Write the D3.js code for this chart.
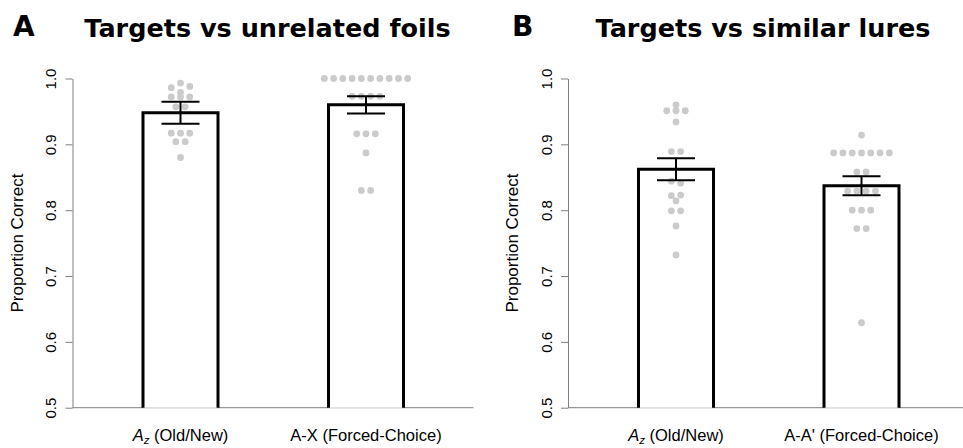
<!DOCTYPE html>
<html><head><meta charset="utf-8">
<script src="https://cdn.jsdelivr.net/npm/d3@7"></script>
<style>body{margin:0;background:#fff} svg{display:block}</style>
</head><body><svg id="c" width="963" height="448"></svg>
<script>
// ---------- data ----------
const panelLetters = ["A", "B"];
const panelTitles = ["Targets vs unrelated foils", "Targets vs similar lures"];
const categoriesA = ["A_z (Old/New)", "A-X (Forced-Choice)"];
const categoriesB = ["A_z (Old/New)", "A-A' (Forced-Choice)"];
const meansA = [0.948, 0.960];
const errorsA = [0.0167, 0.013];
const meansB = [0.862, 0.837];
const errorsB = [0.0167, 0.0144];
const unrelatedOldNew = [0.986, 0.993, 0.988, 0.979, 0.972, 0.972, 0.972, 0.957, 0.957,
  0.917, 0.917, 0.917, 0.904, 0.904, 0.880];
const unrelatedForced = [1.0, 1.0, 1.0, 1.0, 1.0, 1.0, 1.0, 1.0, 1.0, 1.0,
  0.973, 0.973, 0.973, 0.973, 0.916, 0.916, 0.916, 0.887, 0.830, 0.830];
const similarOldNew = [0.960, 0.951, 0.951, 0.951, 0.934, 0.889, 0.889, 0.844, 0.841,
  0.822, 0.823, 0.814, 0.799, 0.799, 0.776, 0.732];
const similarForced = [0.914, 0.887, 0.887, 0.887, 0.887, 0.887, 0.887, 0.887,
  0.858, 0.858, 0.829, 0.829, 0.829, 0.829, 0.800, 0.800, 0.800, 0.772, 0.772, 0.629];
const yTicks = [0.5, 0.6, 0.7, 0.8, 0.9, 1.0];
const yLabel = "Proportion Correct";

// ---------- layout ----------
const panels = [
  {axisX: 72.5, letterX: 13, cats: categoriesA, means: meansA, errs: errorsA, pts: [unrelatedOldNew, unrelatedForced]},
  {axisX: 568, letterX: 512, cats: categoriesB, means: meansB, errs: errorsB, pts: [similarOldNew, similarForced]}
];
const svg = d3.select("#c");
const y = d3.scaleLinear().domain([0.5, 1.0]).range([407.7, 78.5]);
const gray = "#808080";
const dotR = 3.4, slot = 9.27, barW = 75, capHalf = 19;
const sans = "Liberation Sans, Arial, sans-serif";

panels.forEach((p, i) => {
  const g = svg.append("g");
  const x = d3.scalePoint().domain(p.cats).range([p.axisX + 108, p.axisX + 293.5]);

  // letter + title
  g.append("text").attr("x", p.letterX).attr("y", 35.5)
    .attr("font-family", "DejaVu Sans").attr("font-weight", "bold").attr("font-size", 28)
    .text(panelLetters[i]);
  g.append("text").attr("x", p.axisX + 195).attr("y", 37).attr("text-anchor", "middle")
    .attr("font-family", "DejaVu Sans").attr("font-weight", "bold").attr("font-size", 25.5)
    .text(panelTitles[i]);

  // y axis
  const ax = g.append("g").attr("transform", `translate(${p.axisX},0)`)
    .call(d3.axisLeft(y).tickValues(yTicks).tickFormat(d3.format(".1f")).tickSize(7).tickSizeOuter(0));
  ax.select(".domain").attr("stroke", gray);
  ax.selectAll(".tick line").attr("stroke", gray);
  ax.selectAll(".tick text")
    .attr("x", null).attr("dy", null).attr("y", null)
    .attr("transform", "translate(-16.5,0) rotate(-90)")
    .attr("text-anchor", "middle")
    .attr("font-family", sans).attr("font-size", 15).attr("fill", "#000");

  // baseline
  g.append("line").attr("x1", p.axisX).attr("x2", p.axisX + 401)
    .attr("y1", y(0.5)).attr("y2", y(0.5)).attr("stroke", gray).attr("stroke-width", 1);

  // y label
  g.append("text").attr("transform", `translate(${p.axisX - 50},${(y(0.5) + y(1.0)) / 2}) rotate(-90)`)
    .attr("text-anchor", "middle").attr("font-family", sans)
    .attr("font-size", 17).text(yLabel);

  // bar fills
  g.selectAll("rect.bar").data(p.cats).join("rect")
    .attr("x", d => x(d) - barW / 2).attr("width", barW)
    .attr("y", (d, j) => y(p.means[j])).attr("height", (d, j) => y(0.5) - y(p.means[j]))
    .attr("fill", "#fff");

  // dots (centered rows by value bin)
  p.cats.forEach((c, j) => {
    const vals = p.pts[j];
    const bins = d3.group(vals.map((v, k) => ({v, k})), o => Math.round(o.v * 100));
    const dots = [];
    bins.forEach(arr => {
      const n = arr.length;
      arr.forEach((o, s) => dots.push({v: o.v, dx: (s - (n - 1) / 2) * slot}));
    });
    g.append("g").selectAll("circle").data(dots).join("circle")
      .attr("cx", d => x(c) + d.dx).attr("cy", d => y(d.v)).attr("r", dotR)
      .attr("fill", "#cbcbcb");
  });

  // bar outlines (three sides)
  g.selectAll("path.bar").data(p.cats).join("path")
    .attr("d", (d, j) => {
      const l = x(d) - barW / 2, r = x(d) + barW / 2, t = y(p.means[j]), b = y(0.5);
      return `M${l},${b}V${t}H${r}V${b}`;
    })
    .attr("fill", "none").attr("stroke", "#000").attr("stroke-width", 3);

  // error bars
  p.cats.forEach((c, j) => {
    const hi = y(p.means[j] + p.errs[j]), lo = y(p.means[j] - p.errs[j]), cx = x(c);
    const eg = g.append("g").attr("stroke", "#000").attr("stroke-width", 2);
    eg.append("line").attr("x1", cx).attr("x2", cx).attr("y1", hi).attr("y2", lo);
    eg.append("line").attr("x1", cx - capHalf).attr("x2", cx + capHalf).attr("y1", hi).attr("y2", hi);
    eg.append("line").attr("x1", cx - capHalf).attr("x2", cx + capHalf).attr("y1", lo).attr("y2", lo);
  });

  // x labels
  p.cats.forEach(c => {
    const t = g.append("text").attr("x", x(c)).attr("y", 441).attr("text-anchor", "middle")
      .attr("font-family", sans).attr("font-size", 16.5);
    if (c.startsWith("A_z")) {
      t.append("tspan").attr("font-style", "italic").text("A");
      t.append("tspan").attr("font-style", "italic").attr("font-size", 11.5).attr("dy", 3).text("z");
      t.append("tspan").attr("dy", -3).text(c.slice(3));
    } else {
      t.text(c);
    }
  });
});
</script>
</body></html>
